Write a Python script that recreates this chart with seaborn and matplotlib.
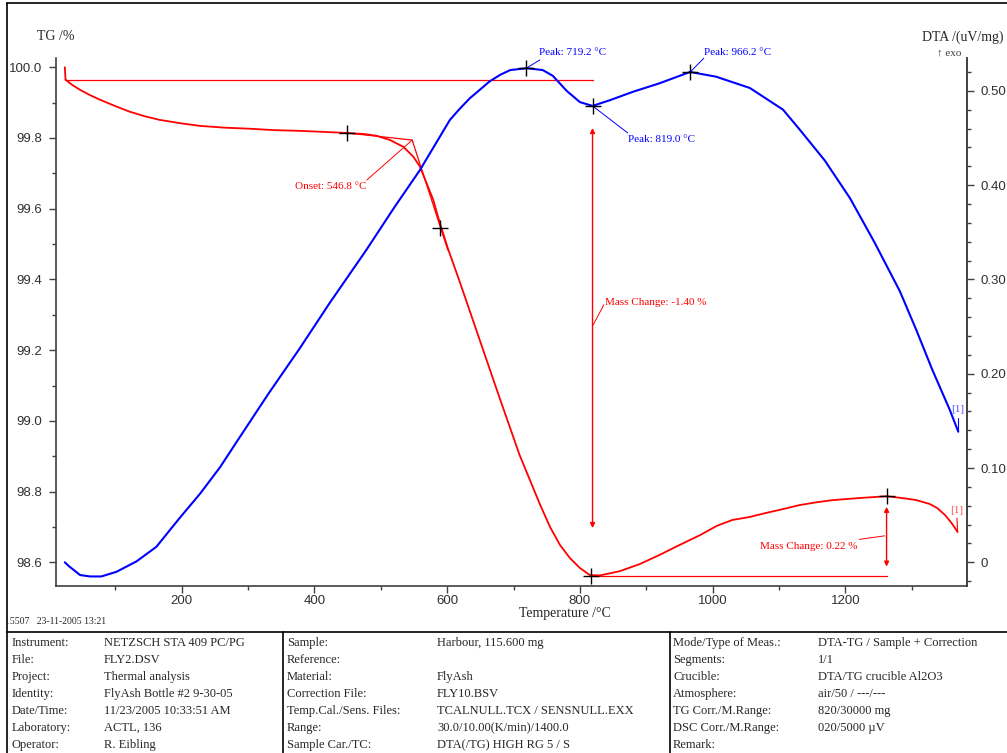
import pandas as pd
import matplotlib
matplotlib.use("Agg")
import matplotlib.pyplot as plt
import seaborn as sns
from matplotlib.lines import Line2D
from matplotlib.ticker import MultipleLocator, FuncFormatter

# --> TG curve (temperature /°C, mass /%) <-- #
tg_temp = [24, 25, 35, 47, 62, 77, 100, 122, 145, 167, 200, 228, 265, 303, 340, 378,
           415, 449, 475, 494, 514, 534, 549, 559, 569, 579, 589, 601, 619, 649, 679,
           709, 740, 755, 770, 785, 800, 815, 830, 860, 890, 920, 950, 981, 1006, 1030,
           1055, 1081, 1107, 1131, 1157, 1181, 1222, 1262, 1289, 1307, 1327, 1338, 1350,
           1360, 1369]
tg_mass = [100.0, 99.965, 99.950, 99.936, 99.921, 99.908, 99.890, 99.874, 99.861, 99.851,
           99.841, 99.834, 99.829, 99.826, 99.822, 99.820, 99.817, 99.814, 99.811, 99.806,
           99.794, 99.775, 99.747, 99.719, 99.672, 99.625, 99.559, 99.488, 99.393, 99.229,
           99.065, 98.904, 98.763, 98.700, 98.649, 98.612, 98.584, 98.564, 98.563, 98.575,
           98.595, 98.621, 98.649, 98.677, 98.703, 98.720, 98.728, 98.740, 98.751, 98.762,
           98.770, 98.776, 98.782, 98.787, 98.781, 98.776, 98.765, 98.754, 98.734, 98.711,
           98.686]

# --> DTA curve (temperature /°C, signal /(uV/mg)) <-- #
dta_temp = [24, 30, 47, 62, 79, 102, 132, 162, 197, 228, 258, 285, 330, 378, 423, 478,
            520, 559, 604, 619, 634, 649, 664, 680, 695, 720, 744, 759, 780, 800, 819,
            845, 880, 920, 966, 1005, 1056, 1106, 1131, 1169, 1207, 1244, 1282,
            1307, 1331, 1357, 1370]
dta_signal = [0.0, -0.004, -0.0135, -0.015, -0.015, -0.010, 0.001, 0.0165, 0.047, 0.073,
              0.101, 0.130, 0.178, 0.227, 0.275, 0.331, 0.376, 0.416, 0.469, 0.481, 0.492,
              0.501, 0.510, 0.517, 0.522, 0.524, 0.522, 0.516, 0.500, 0.488, 0.484, 0.490,
              0.499, 0.508, 0.520, 0.515, 0.503, 0.480, 0.459, 0.426, 0.386, 0.339,
              0.2875, 0.246, 0.204, 0.162, 0.1385]

# evaluation markers
tg_mark_temp = [449, 589, 817, 1262]
tg_mark_mass = [99.814, 99.545, 98.562, 98.787]
peak_temp = [719.2, 819.0, 966.2]
peak_signal = [0.524, 0.484, 0.520]
peak_labels = ["Peak: 719.2 °C", "Peak: 819.0 °C", "Peak: 966.2 °C"]

# info table below the plot
col1_keys = ["Instrument:", "File:", "Project:", "Identity:", "Date/Time:", "Laboratory:", "Operator:"]
col1_vals = ["NETZSCH STA 409 PC/PG", "FLY2.DSV", "Thermal analysis", "FlyAsh Bottle #2 9-30-05",
             "11/23/2005 10:33:51 AM", "ACTL, 136", "R. Eibling"]
col2_keys = ["Sample:", "Reference:", "Material:", "Correction File:", "Temp.Cal./Sens. Files:",
             "Range:", "Sample Car./TC:"]
col2_vals = ["Harbour, 115.600 mg", "", "FlyAsh", "FLY10.BSV", "TCALNULL.TCX / SENSNULL.EXX",
             "30.0/10.00(K/min)/1400.0", "DTA(/TG) HIGH RG 5 / S"]
col3_keys = ["Mode/Type of Meas.:", "Segments:", "Crucible:", "Atmosphere:", "TG Corr./M.Range:",
             "DSC Corr./M.Range:", "Remark:"]
col3_vals = ["DTA-TG / Sample + Correction", "1/1", "DTA/TG crucible Al2O3", "air/50 / ---/---",
             "820/30000 mg", "020/5000 µV", ""]

sns.set_style("ticks")
plt.rcParams['font.family'] = ['Liberation Serif', 'DejaVu Sans']

W, H = 1007, 753
fig = plt.figure(figsize=(W / 100, H / 100), dpi=100)
ax = fig.add_axes([56 / W, 1 - 585.7 / H, (966.7 - 56) / W, (585.7 - 58) / H])
ax2 = ax.twinx()

RED, BLUE, AX_COL = "#ff0000", "#0000ff", "#404040"

tg_df = pd.DataFrame({"Temperature": tg_temp, "TG": tg_mass})
dta_df = pd.DataFrame({"Temperature": dta_temp, "DTA": dta_signal})
sns.lineplot(data=tg_df, x="Temperature", y="TG", ax=ax, color=RED, linewidth=1.3,
             estimator=None, sort=False)
sns.lineplot(data=dta_df, x="Temperature", y="DTA", ax=ax2, color=BLUE, linewidth=1.5,
             estimator=None, sort=False)

# baselines, tangents and mass-change arrows (TG evaluation)
thin = dict(color=RED, linewidth=0.9)
ax.plot([25, 819], [99.965, 99.965], **thin)
ax.plot([819, 1262], [98.562, 98.562], **thin)
ax.plot([449, 547.3], [99.814, 99.794], **thin)
ax.plot([547.3, 601], [99.794, 99.483], **thin)
ax.plot([547.3, 479], [99.794, 99.681], color=RED, linewidth=0.7)
ax.text(479, 99.664, "Onset: 546.8 °C", color=RED, fontsize=8, ha="right", va="center")

arr = dict(arrowstyle="<|-|>", color=RED, linewidth=1.0, mutation_scale=7, shrinkA=0, shrinkB=0)
ax.annotate("", xy=(819, 99.828), xytext=(819, 98.697), arrowprops=arr)
ax.plot([819.8, 836], [99.271, 99.328], color=RED, linewidth=0.7)
ax.text(837.6, 99.336, "Mass Change: -1.40 %", color=RED, fontsize=8, ha="left", va="center")
ax.annotate("", xy=(1262, 98.757), xytext=(1262, 98.588), arrowprops=arr)
ax.plot([1221, 1259], [98.665, 98.675], color=RED, linewidth=0.7)
ax.text(1218, 98.644, "Mass Change: 0.22 %", color=RED, fontsize=8, ha="right", va="center")
ax.plot([1368, 1369], [98.725, 98.686], color=RED, linewidth=0.8)
ax.text(1367, 98.748, "[1]", color=RED, fontsize=8, ha="center", va="center", alpha=0.7)

sns.scatterplot(x=tg_mark_temp, y=tg_mark_mass, ax=ax, marker="+", s=130, color="black",
                linewidth=1.0, zorder=5)

# DTA peak labels
sns.scatterplot(x=peak_temp, y=peak_signal, ax=ax2, marker="+", s=130, color="black",
                linewidth=1.0, zorder=5)
leader_ends = [(739.6, 0.5327), (872.1, 0.4553), (986.6, 0.5345)]
label_pos = [(738.1, 0.5404), (872.1, 0.4486), (986.6, 0.5404)]
for t, s, (ex, ey), (lx, ly), lab in zip(peak_temp, peak_signal, leader_ends, label_pos, peak_labels):
    ax2.plot([t, ex], [s, ey], color=BLUE, linewidth=0.7, clip_on=False)
    ax2.text(lx, ly, lab, color=BLUE, fontsize=8, ha="left", va="center", clip_on=False)
ax2.plot([1369.6, 1369.6], [0.153, 0.1395], color=BLUE, linewidth=0.8)
ax2.text(1369, 0.1616, "[1]", color=BLUE, fontsize=8, ha="center", va="center", alpha=0.7)

# axes limits and ticks
ax.set_xlim(10.7, 1382.7)
ax.set_ylim(98.534, 100.026)
ax2.set_ylim(-0.0248, 0.5348)

ax.xaxis.set_major_locator(MultipleLocator(200))
ax.xaxis.set_minor_locator(MultipleLocator(100))
ax.yaxis.set_major_locator(MultipleLocator(0.2))
ax.yaxis.set_minor_locator(MultipleLocator(0.1))
ax.yaxis.set_major_formatter(FuncFormatter(lambda v, p: f"{v:.1f}"))
ax2.yaxis.set_major_locator(MultipleLocator(0.1))
ax2.yaxis.set_minor_locator(MultipleLocator(0.02))
ax2.yaxis.set_major_formatter(FuncFormatter(lambda v, p: "0" if abs(v) < 1e-9 else f"{v:.2f}"))

for a in (ax, ax2):
    a.set_xlabel("")
    a.set_ylabel("")
    a.spines["top"].set_visible(False)
    for sp in a.spines.values():
        sp.set_color(AX_COL)
        sp.set_linewidth(1.2)
    a.tick_params(which="major", length=5, width=1.0, color=AX_COL, labelcolor="#303030",
                  labelsize=9.5, pad=5)
    a.tick_params(which="minor", length=3, width=1.0, color=AX_COL)
    for lab in a.get_xticklabels() + a.get_yticklabels():
        lab.set_family("Liberation Sans")
ax.tick_params(axis="x", which="major", pad=2)
ax2.spines["left"].set_visible(False)
ax2.spines["bottom"].set_visible(False)

# axis titles
fig.text(37 / W, 1 - 37 / H, "TG /%", fontsize=10, ha="left", va="center")
fig.text(922 / W, 1 - 37 / H, "DTA /(uV/mg)", fontsize=10, ha="left", va="center")
fig.text(937 / W, 1 - 53 / H, "↑ exo", fontsize=8, ha="left", va="center", color="#404040")
fig.text(565 / W, 1 - 614 / H, "Temperature /°C", fontsize=10, ha="center", va="center")

# page frame and info table
fig.text(5 / W, 1 - 621 / H, "15507   23-11-2005 13:21", fontsize=7, ha="left", va="center")
frame = dict(color="black", linewidth=1.2)
fig.add_artist(Line2D([7 / W, 1], [1 - 3 / H, 1 - 3 / H], **frame))
fig.add_artist(Line2D([7 / W, 7 / W], [0, 1 - 3 / H], **frame))
fig.add_artist(Line2D([7 / W, 1], [1 - 632 / H, 1 - 632 / H], **frame))
for xv in (283, 670):
    fig.add_artist(Line2D([xv / W, xv / W], [0, 1 - 632 / H], **frame))

row_y = [643 + 17 * i for i in range(7)]
columns = [(12, 104, col1_keys, col1_vals), (287, 437, col2_keys, col2_vals),
           (673, 818, col3_keys, col3_vals)]
for kx, vx, keys, vals in columns:
    for y, k, v in zip(row_y, keys, vals):
        fig.text(kx / W, 1 - y / H, k, fontsize=9, ha="left", va="center")
        fig.text(vx / W, 1 - y / H, v, fontsize=9, ha="left", va="center")

fig.savefig("out.png", dpi=100)
